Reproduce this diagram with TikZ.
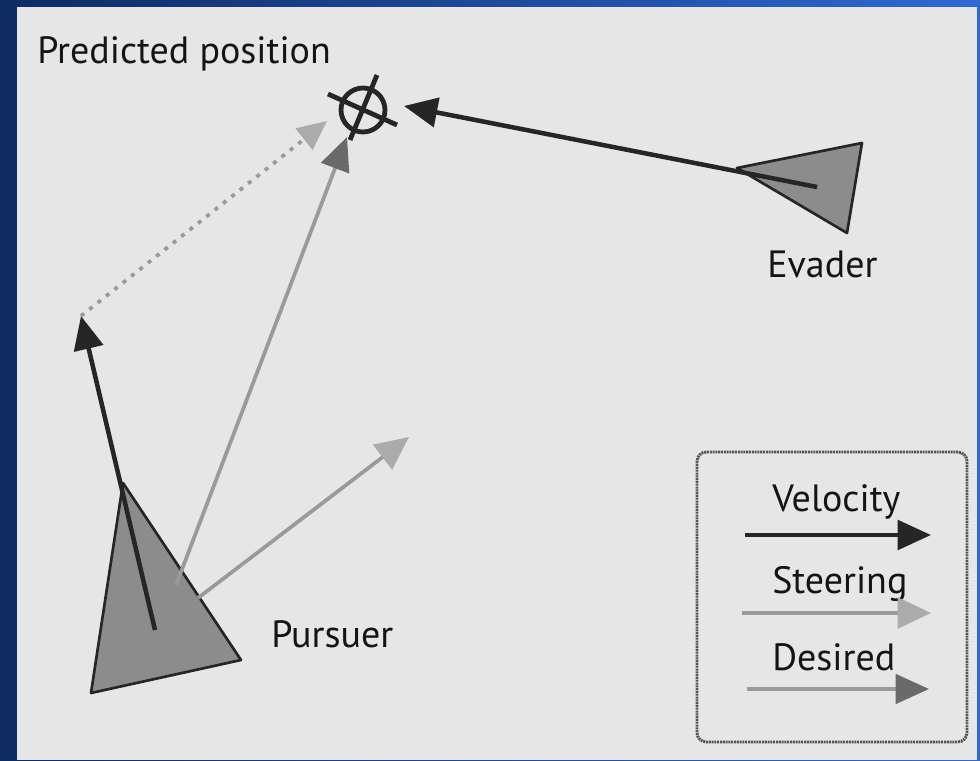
\documentclass[tikz,border=0pt]{standalone}
\usepackage{fontspec}
\setmainfont{PT Sans}
\usetikzlibrary{arrows.meta}
\definecolor{bgdark}{HTML}{0E2B62}
\definecolor{bglight}{HTML}{2F69D2}
\definecolor{panel}{HTML}{E6E6E6}
\definecolor{trifill}{HTML}{8C8C8C}
\definecolor{graylinec}{HTML}{9A9A9A}
\definecolor{steerheadc}{HTML}{ABABAB}
\definecolor{desheadc}{HTML}{6A6A6A}
\definecolor{boxc}{HTML}{555555}
\begin{document}
\begin{tikzpicture}[x=0.75pt,y=-0.75pt,
  lbl/.style={font=\fontsize{28.5}{33}\selectfont, inner sep=0pt, anchor=base west, text=black!92},
  agent/.style={fill=trifill, draw=black!85, line width=2pt, line join=round},
  velarrow/.style={draw=black!85, line width=3.4pt, -{Triangle[length=25pt,width=22pt]}},
  steerarrow/.style={draw=graylinec, line width=2.8pt, -{Triangle[length=25pt,width=23pt,color=steerheadc]}},
  desarrow/.style={draw=graylinec, line width=2.8pt, -{Triangle[length=25pt,width=22pt,color=desheadc]}},
  offsetarrow/.style={draw=graylinec, line width=2.8pt, dash pattern=on 3pt off 5pt, -{Triangle[length=22pt,width=20pt,color=steerheadc]}},
  crossline/.style={draw=black!85, line width=3.6pt},
  legendbox/.style={draw=boxc, line width=2.2pt, dash pattern=on 1.5pt off 0.6pt, rounded corners=7pt}
]
\useasboundingbox (0,0) rectangle (980,760);
\shade[left color=bgdark, right color=bglight] (0,0) rectangle (980,760);
\fill[panel] (17,7) rectangle (977,760);

% predicted position
\node[lbl] (predlbl) at (37,63) {Predicted position};
\coordinate (pred) at (363,110);
\draw[crossline] (pred) circle (22);
\draw[crossline] (pred) ++(-35,-16) -- ++(69,31);
\draw[crossline] (pred) ++(14,-35) -- ++(-27,65);

% evader
\coordinate (evA) at (737,168);
\coordinate (evB) at (862,143);
\coordinate (evC) at (847,233);
\coordinate (evv) at (817,187);
\coordinate (evtip) at (404,106);
\draw[agent] (evA) -- (evB) -- (evC) -- cycle;
\draw[velarrow] (evv) -- (evtip);
\node[lbl] (evlbl) at (767,277) {Evader};

% pursuer
\coordinate (puA) at (123,483);
\coordinate (puB) at (91,693);
\coordinate (puC) at (241,660);
\coordinate (puv) at (155,630);
\coordinate (puvtip) at (81,316);
\coordinate (desstart) at (176,585);
\coordinate (destip) at (347,137);
\coordinate (ststart) at (198,598);
\coordinate (sttip) at (409,437);
\coordinate (offtip) at (327,121);
\draw[agent] (puA) -- (puB) -- (puC) -- cycle;
\draw[desarrow] (desstart) -- (destip);
\draw[steerarrow] (ststart) -- (sttip);
\draw[velarrow] (puv) -- (puvtip);
\draw[offsetarrow] (puvtip) -- (offtip);
\node[lbl] (pulbl) at (271,647) {Pursuer};

% legend
\draw[legendbox] (697,452) rectangle (967,742);
\node[lbl] (lgv) at (772,511) {Velocity};
\coordinate (lgva) at (745,535);
\coordinate (lgvb) at (931,535);
\draw[velarrow] (lgva) -- (lgvb);
\node[lbl] (lgs) at (772,593) {Steering};
\coordinate (lgsa) at (742,613);
\coordinate (lgsb) at (931,613);
\draw[steerarrow] (lgsa) -- (lgsb);
\node[lbl] (lgd) at (772,670) {Desired};
\coordinate (lgda) at (747,689);
\coordinate (lgdb) at (929,689);
\draw[desarrow] (lgda) -- (lgdb);
\end{tikzpicture}
\end{document}
